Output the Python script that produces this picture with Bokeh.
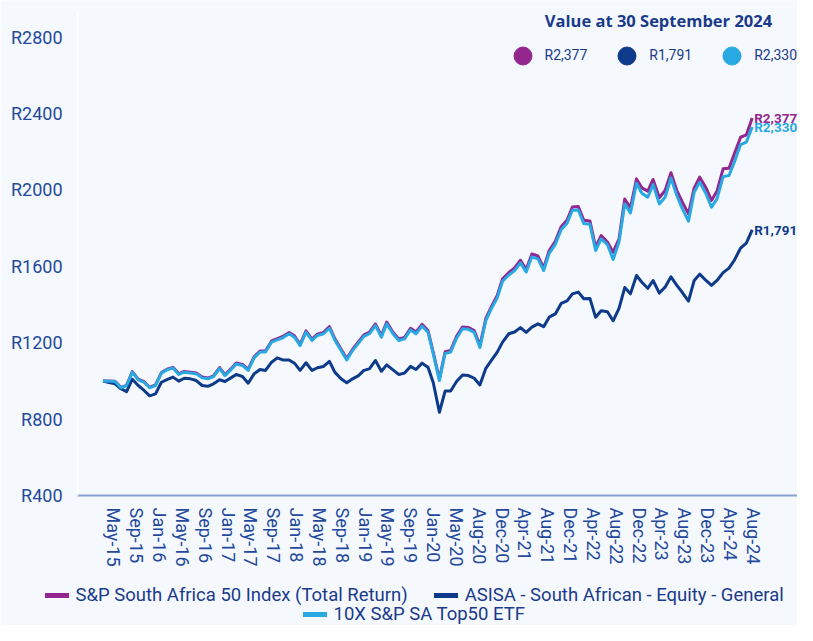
import pandas as pd
from bokeh.plotting import figure
from bokeh.models import Range1d, FixedTicker, Label, Legend, LegendItem, PrintfTickFormatter
from bokeh.embed import file_html
from bokeh.resources import INLINE

# ---------------- data ----------------
try:
    dates = pd.date_range("2015-05-29", periods=113, freq="BME")
except Exception:
    dates = pd.date_range("2015-05-29", periods=113, freq="BM")

sp50 = [1000, 999, 998, 966, 977, 1049, 1009, 996, 967, 979,
        1044, 1061, 1071, 1038, 1050, 1046, 1041, 1020, 1015, 1027,
        1070, 1033, 1063, 1094, 1086, 1060, 1126, 1157, 1157, 1209,
        1221, 1233, 1254, 1236, 1192, 1262, 1219, 1245, 1254, 1284,
        1222, 1167, 1117, 1166, 1206, 1241, 1255, 1298, 1237, 1308,
        1255, 1220, 1228, 1276, 1256, 1296, 1264, 1148, 1010, 1153,
        1160, 1235, 1283, 1280, 1264, 1185, 1327, 1393, 1447, 1535,
        1568, 1592, 1632, 1584, 1665, 1654, 1592, 1683, 1731, 1808,
        1843, 1911, 1913, 1841, 1838, 1700, 1761, 1727, 1674, 1744,
        1953, 1906, 2058, 2011, 1994, 2055, 1959, 1997, 2090, 1997,
        1936, 1875, 2011, 2067, 2011, 1945, 1994, 2111, 2114, 2189,
        2276, 2288, 2377]

asisa = [1000, 992, 985, 959, 944, 1009, 976, 950, 922, 932,
         993, 1007, 1020, 999, 1014, 1011, 1002, 976, 972, 985,
         1006, 997, 1016, 1034, 1023, 988, 1037, 1060, 1055, 1098,
         1121, 1110, 1110, 1093, 1055, 1095, 1055, 1069, 1076, 1102,
         1046, 1011, 990, 1011, 1028, 1055, 1063, 1107, 1051, 1084,
         1058, 1034, 1041, 1076, 1060, 1093, 1072, 990, 836, 947,
         947, 998, 1031, 1028, 1014, 979, 1066, 1110, 1151, 1203,
         1247, 1256, 1279, 1254, 1282, 1299, 1284, 1334, 1351, 1406,
         1419, 1456, 1465, 1430, 1432, 1333, 1367, 1362, 1315, 1380,
         1489, 1456, 1552, 1517, 1485, 1526, 1460, 1491, 1545, 1500,
         1463, 1418, 1526, 1559, 1526, 1500, 1526, 1567, 1591, 1632,
         1696, 1722, 1791]

etf = [1000, 998, 997, 964, 975, 1046, 1006, 993, 964, 976,
       1041, 1058, 1068, 1034, 1046, 1042, 1037, 1016, 1011, 1023,
       1065, 1028, 1058, 1089, 1081, 1055, 1121, 1151, 1151, 1203,
       1215, 1226, 1247, 1229, 1185, 1255, 1212, 1238, 1247, 1276,
       1215, 1160, 1110, 1159, 1198, 1233, 1247, 1290, 1229, 1299,
       1247, 1212, 1220, 1267, 1247, 1287, 1255, 1140, 1002, 1144,
       1151, 1225, 1273, 1270, 1254, 1175, 1316, 1382, 1435, 1522,
       1555, 1578, 1618, 1570, 1650, 1639, 1578, 1668, 1715, 1792,
       1826, 1894, 1895, 1824, 1820, 1683, 1744, 1714, 1636, 1727,
       1927, 1880, 2035, 1983, 1962, 2028, 1927, 1962, 2063, 1971,
       1901, 1837, 1988, 2041, 1980, 1910, 1953, 2070, 2076, 2145,
       2238, 2250, 2330]

series_names = ["S&P South Africa 50 Index (Total Return)",
                "ASISA - South African - Equity - General",
                "10X S&P SA Top50 ETF"]
series_colors = ["#93278F", "#0E3A8A", "#29A9E1"]

tick_labels = ["May-15", "Sep-15", "Jan-16", "May-16", "Sep-16", "Jan-17", "May-17",
               "Sep-17", "Jan-18", "May-18", "Sep-18", "Jan-19", "May-19", "Sep-19",
               "Jan-20", "May-20", "Aug-20", "Dec-20", "Apr-21", "Aug-21", "Dec-21",
               "Apr-22", "Aug-22", "Dec-22", "Apr-23", "Aug-23", "Dec-23", "Apr-24",
               "Aug-24"]
y_ticks = [400, 800, 1200, 1600, 2000, 2400, 2800]

legend_title = "Value at 30 September 2024"

# ---------------- styling ----------------
BG = "#F5F9FE"
TXT = "#24499C"
DARK = "#1B3A8A"
FONT = "Roboto"


def ms(ts):
    return float(pd.Timestamp(ts).value // 10**6)


x_start = dates[0] - pd.Timedelta(days=538.7)
x_end = dates[0] + pd.Timedelta(days=3650)
plot_left = dates[0] - pd.Timedelta(days=134)      # where the value axis sits

# the frame fills the whole canvas; both axes are pinned inside it
p = figure(width=797, height=625, output_backend="svg", toolbar_location=None,
           x_axis_type="datetime",
           x_range=Range1d(x_start, x_end),
           y_range=Range1d(-280.8, 2992.2),
           min_border_left=0, min_border_right=0, min_border_top=0, min_border_bottom=0)
p.background_fill_color = BG
p.border_fill_color = BG
p.outline_line_color = None
p.xgrid.visible = False
p.ygrid.visible = False

# y axis
p.yaxis.fixed_location = ms(plot_left)
p.yaxis.bounds = (400, 2940)
p.yaxis.ticker = FixedTicker(ticks=y_ticks)
p.yaxis.formatter = PrintfTickFormatter(format="R%d")
p.yaxis.axis_line_color = "#FFFFFF"
p.yaxis.axis_line_width = 1.5
p.yaxis.major_tick_line_color = None
p.yaxis.minor_tick_line_color = None
p.yaxis.major_tick_out = 0
p.yaxis.major_label_standoff = 15
p.yaxis.major_label_text_font = FONT
p.yaxis.major_label_text_font_size = "18px"
p.yaxis.major_label_text_color = TXT

# x axis: a label every 120 days from the first date (drawn ~57 days right of it, as in the source)
tick_ms = [ms(dates[0] + pd.Timedelta(days=120 * k + 57)) for k in range(len(tick_labels))]
p.xaxis.fixed_location = 400
p.xaxis.bounds = (ms(plot_left), ms(x_end))
p.xaxis.ticker = FixedTicker(ticks=tick_ms)
p.xaxis.major_label_overrides = {t: lab for t, lab in zip(tick_ms, tick_labels)}
p.xaxis.major_label_orientation = "vertical"
p.xaxis.axis_line_color = "#8AA2D2"
p.xaxis.axis_line_width = 2
p.xaxis.major_tick_line_color = None
p.xaxis.minor_tick_line_color = None
p.xaxis.major_tick_out = 0
p.xaxis.major_label_standoff = 12
p.xaxis.major_label_text_font = FONT
p.xaxis.major_label_text_font_size = "18px"
p.xaxis.major_label_text_color = TXT

# lines
all_series = [sp50, asisa, etf]
for vals, col in zip(all_series, series_colors):
    p.line(dates, vals, line_color=col, line_width=3, line_join="round")

# end-of-line value labels
for vals, col in zip(all_series, series_colors):
    p.add_layout(Label(x=dates[-1], y=vals[-1], text=f"R{vals[-1]:,}", x_offset=2,
                       text_baseline="middle", text_align="left", text_color=col,
                       text_font=FONT, text_font_style="bold", text_font_size="13.5px"))

# top-right "value at" legend: dots are the last point of each series (hidden in the plot)
dots = []
for vals, c in zip(all_series, series_colors):
    d = p.scatter(x=[dates[-1]], y=[vals[-1]], marker="circle", size=18, fill_color=c, line_color=c)
    d.visible = False
    dots.append(d)
top_lg = Legend(items=[LegendItem(label=f"R{vals[-1]:,}", renderers=[d]) for vals, d in zip(all_series, dots)],
                location=(499.5, 547.5), orientation="horizontal", padding=0, margin=0, spacing=17,
                glyph_width=45, glyph_height=45, label_height=45, label_standoff=-1,
                border_line_color=None, background_fill_alpha=0, click_policy="none",
                label_text_font=FONT, label_text_font_size="14px", label_text_color=DARK)
p.add_layout(top_lg)

p.add_layout(Label(x=658, y=20, x_units="canvas", y_units="canvas", text=legend_title,
                   text_align="center", text_baseline="middle", text_color=DARK,
                   text_font="Open Sans", text_font_style="bold", text_font_size="16.5px"))

# ---------------- bottom legend ----------------
swatches = []
for vals, c in zip(all_series, series_colors):
    s = p.line(x=[dates[-1], dates[-1]], y=[vals[-1], vals[-1]], line_color=c, line_width=5, line_cap="round")
    s.visible = False
    swatches.append(s)

leg_style = dict(orientation="horizontal", padding=0, margin=0,
                 glyph_width=24, glyph_height=20, label_height=20, label_standoff=7,
                 border_line_color=None, background_fill_alpha=0, click_policy="none",
                 label_text_font=FONT, label_text_font_size="18.5px",
                 label_text_color=DARK)
row1 = Legend(items=[LegendItem(label=series_names[0], renderers=[swatches[0]]),
                     LegendItem(label=series_names[1], renderers=[swatches[1]])],
              location=(44.5, 19), spacing=26, **leg_style)
row2 = Legend(items=[LegendItem(label=series_names[2], renderers=[swatches[2]])],
              location=(302.5, 0), spacing=0, **leg_style)
p.add_layout(row1)
p.add_layout(row2)

open("out.html", "w").write(file_html(p, INLINE))
